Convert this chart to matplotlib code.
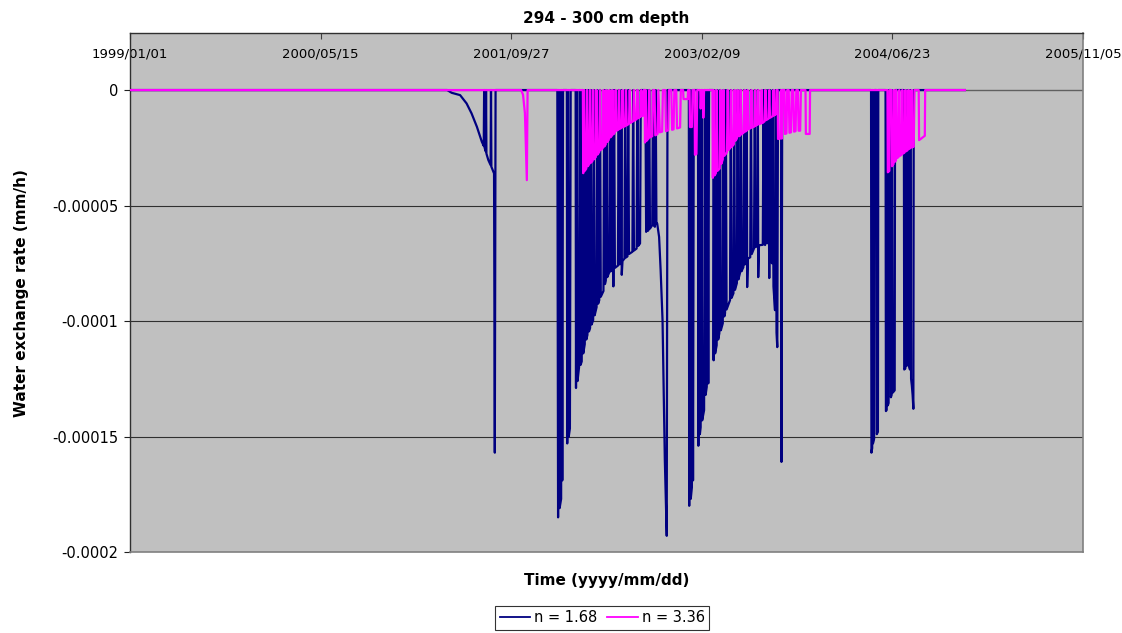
import matplotlib
matplotlib.use("Agg")
import matplotlib.pyplot as plt
import numpy as np
import pandas as pd

# series start date; the series points are (day since start, exchange rate mm/h)
start_date = "1999-01-01"

navy_pts = [
    (0, 0), (832, 0), (844, -1.2e-6), (866, -2.2e-6), (883, -5.8e-6), (896, -10.1e-6),
    (910, -15.9e-6), (923, -22.4e-6), (928, -24.2e-6), (929, 0), (930, -24.8e-6),
    (933, -26.5e-6), (934, 0), (935, -27.5e-6), (940, -30.3e-6), (946, -32.5e-6),
    (947, 0), (948, -33.2e-6), (955, -36.1e-6), (957, -157e-6), (959, 0),
    # 2002
    (1121, 0), (1123, -185e-6), (1125, 0), (1127, -181e-6), (1131, -177e-6), (1132, 0),
    (1134, -169e-6), (1136, 0), (1146, 0), (1147, -153e-6), (1149, 0), (1151, -150e-6),
    (1154, -146.5e-6), (1156, 0), (1169, 0), (1170, -129e-6), (1172, 0), (1174, -126e-6),
    (1178, -120e-6), (1180, 0), (1182, -119e-6), (1185, -117.5e-6), (1187, 0),
    (1189, -114e-6), (1193, -110e-6), (1195, 0), (1197, -108e-6), (1200, -106e-6),
    (1202, 0), (1204, -104.5e-6), (1207, -103e-6), (1209, 0), (1211, -101.5e-6),
    (1215, -99.6e-6), (1217, 0), (1219, -97.5e-6), (1224, -94e-6), (1226, 0),
    (1228, -92.5e-6), (1231, -91e-6), (1233, 0), (1235, -89.5e-6), (1242, -87e-6),
    (1244, 0), (1246, -84e-6), (1248, -82.5e-6), (1250, 0), (1252, -81e-6),
    (1257, -79e-6), (1259, 0), (1261, -78.5e-6), (1264, -78e-6), (1266, 0),
    (1268, -85e-6), (1270, 0), (1272, -77e-6), (1280, -76e-6), (1282, 0),
    (1284, -75.5e-6), (1288, -75e-6), (1289, 0), (1290, -80e-6), (1292, -74e-6),
    (1297, -73e-6), (1299, 0), (1301, -72.5e-6), (1305, -72e-6), (1307, 0),
    (1309, -71e-6), (1318, -70e-6), (1320, 0), (1322, -69.5e-6), (1329, -68.6e-6),
    (1331, 0), (1333, -67.5e-6), (1338, -66.4e-6), (1340, 0), (1352, 0),
    (1354, -61.4e-6), (1356, 0), (1358, -61e-6), (1360, -60.7e-6), (1362, 0),
    (1364, -60e-6), (1370, -58.5e-6), (1372, 0), (1374, -58.5e-6), (1377, -59.2e-6),
    (1379, 0), (1381, -58e-6), (1383, -57.8e-6), (1388, -63.6e-6), (1392, -78e-6),
    (1397, -99.6e-6), (1401, -140e-6), (1403, -160e-6), (1408, -193e-6), (1410, 0),
    # 2003
    (1466, 0), (1467, -180e-6), (1469, 0), (1471, -177e-6), (1474, -172e-6), (1475, 0),
    (1477, -169e-6), (1479, 0), (1490, 0), (1491, -154e-6), (1493, 0), (1495, -149e-6),
    (1497, -146e-6), (1499, 0), (1501, -143e-6), (1506, -138.6e-6), (1508, 0),
    (1510, -132e-6), (1513, -128.5e-6), (1515, 0), (1517, -127e-6), (1519, 0),
    (1530, 0), (1531, -117e-6), (1533, 0), (1535, -114e-6), (1539, -110.5e-6),
    (1541, 0), (1543, -108e-6), (1546, -105.3e-6), (1548, 0), (1550, -104e-6),
    (1555, -101e-6), (1557, 0), (1559, -98e-6), (1561, -96.6e-6), (1563, 0),
    (1565, -95e-6), (1574, -91e-6), (1576, 0), (1578, -90e-6), (1583, -88e-6),
    (1585, 0), (1587, -86.5e-6), (1592, -83.6e-6), (1594, 0), (1596, -82e-6),
    (1600, -79.3e-6), (1602, 0), (1604, -78.5e-6), (1609, -76.7e-6), (1611, 0),
    (1613, -75.5e-6), (1617, -74e-6), (1618, 0), (1619, -85.3e-6), (1621, -73e-6),
    (1627, -72.4e-6), (1629, 0), (1631, -71e-6), (1637, -68.5e-6), (1639, 0),
    (1641, -68e-6), (1646, -67.5e-6), (1647, 0), (1648, -81e-6), (1650, -67.2e-6),
    (1660, -67e-6), (1662, 0), (1664, -66.5e-6), (1666, -67.1e-6), (1668, 0),
    (1670, -66.3e-6), (1672, -66.3e-6), (1674, 0), (1677, -81.4e-6), (1679, 0),
    (1681, -70e-6), (1684, -75e-6), (1686, 0), (1688, -85e-6), (1692, -95.3e-6),
    (1694, 0), (1696, -105e-6), (1698, -111.3e-6), (1700, 0), (1708, 0),
    (1709, -161e-6), (1711, 0),
    # 2004
    (1944, 0), (1945, -157e-6), (1947, -155e-6), (1948, 0), (1949, -153e-6),
    (1952, -151e-6), (1953, 0), (1958, 0), (1959, -149e-6), (1962, -148e-6), (1963, 0),
    (1982, 0), (1983, -139e-6), (1985, -138.5e-6), (1986, 0), (1988, -136.5e-6),
    (1990, -135.5e-6), (1991, 0), (1995, 0), (1996, -133e-6), (1998, -132e-6),
    (1999, 0), (2001, -131e-6), (2006, -130e-6), (2007, 0),
    (2030, 0), (2031, -121e-6), (2034, -120.5e-6), (2035, 0), (2037, -119.5e-6),
    (2040, -118.5e-6), (2041, 0), (2043, -119e-6), (2046, -121e-6), (2047, 0),
    (2049, -125e-6), (2051, -128e-6), (2053, -132e-6), (2055, -138e-6), (2056, 0),
    (2190, 0),
]

magenta_pts = [
    (0, 0), (1026, 0), (1031, -2e-6), (1036, -10e-6), (1041, -39e-6), (1043, 0),
    # 2002
    (1188, 0), (1189, -36e-6), (1191, 0), (1193, -35e-6), (1197, -34e-6), (1199, 0),
    (1201, -33e-6), (1205, -32e-6), (1207, 0), (1209, -31.5e-6), (1213, -30.8e-6),
    (1215, 0), (1217, -30e-6), (1222, -29e-6), (1224, 0), (1226, -28e-6),
    (1231, -26.8e-6), (1233, 0), (1235, -26e-6), (1240, -25.2e-6), (1242, 0),
    (1244, -24.5e-6), (1248, -23.5e-6), (1250, 0), (1252, -22.5e-6), (1256, -21.5e-6),
    (1258, 0), (1260, -20.5e-6), (1264, -19.8e-6), (1266, 0), (1268, -19.2e-6),
    (1272, -18.3e-6), (1274, 0), (1276, -17.6e-6), (1281, -17.2e-6), (1283, 0),
    (1285, -16.8e-6), (1290, -16.3e-6), (1292, 0), (1294, -16e-6), (1299, -15.6e-6),
    (1301, 0), (1303, -15.3e-6), (1309, -14.6e-6), (1311, 0), (1313, -14.2e-6),
    (1320, -13.5e-6), (1322, 0), (1324, -13.2e-6), (1329, -12.6e-6), (1331, 0),
    (1333, -12.2e-6), (1339, -11.6e-6), (1341, 0), (1343, -11.3e-6), (1346, -11e-6),
    (1348, 0), (1350, 0), (1351, -22.7e-6), (1353, 0), (1355, -22e-6), (1360, -21e-6),
    (1362, 0), (1364, -20.5e-6), (1370, -20e-6), (1372, 0), (1376, 0),
    (1378, -19.6e-6), (1384, -19e-6), (1386, 0), (1390, -18.3e-6), (1396, -18e-6),
    (1398, 0), (1404, 0), (1406, -17.8e-6), (1412, -17.4e-6), (1414, 0), (1420, 0),
    (1422, -17.2e-6), (1426, -17e-6), (1428, 0), (1433, 0), (1435, -16.6e-6),
    (1443, -16.2e-6), (1445, 0), (1451, 0), (1452, -3.9e-6), (1463, -3.9e-6),
    (1464, 0), (1468, 0), (1469, -16e-6), (1474, -16e-6), (1476, 0), (1481, 0),
    (1482, -28e-6), (1486, -27.7e-6), (1488, 0), (1496, 0), (1497, -8e-6), (1499, 0),
    (1503, 0), (1504, -12e-6), (1506, 0),
    # 2003
    (1528, 0), (1529, -38e-6), (1531, 0), (1533, -37e-6), (1537, -36e-6), (1539, 0),
    (1541, -35e-6), (1547, -34e-6), (1549, 0), (1551, -32e-6), (1555, -30e-6),
    (1557, 0), (1559, -28.5e-6), (1566, -27e-6), (1568, 0), (1570, -26e-6),
    (1575, -25e-6), (1577, 0), (1579, -24.5e-6), (1584, -23.5e-6), (1586, 0),
    (1588, -22e-6), (1592, -21e-6), (1594, 0), (1596, -20e-6), (1600, -19.8e-6),
    (1602, 0), (1604, -19.2e-6), (1610, -18.4e-6), (1612, 0), (1614, -18e-6),
    (1618, -17.5e-6), (1620, 0), (1622, -17e-6), (1628, -16.5e-6), (1630, 0),
    (1632, -16.2e-6), (1638, -15.8e-6), (1640, 0), (1642, -15.4e-6), (1646, -15e-6),
    (1648, 0), (1650, -14.8e-6), (1655, -14.5e-6), (1657, 0), (1659, -14.3e-6),
    (1665, -13.5e-6), (1667, 0), (1669, -13e-6), (1675, -12.4e-6), (1677, 0),
    (1679, -12e-6), (1686, -11.3e-6), (1688, 0), (1690, -11e-6), (1694, -10.5e-6),
    (1696, 0), (1699, 0), (1700, -21.2e-6), (1706, -21e-6), (1708, 0), (1710, -21e-6),
    (1712, 0), (1717, 0), (1718, -19e-6), (1722, -18.8e-6), (1724, 0), (1728, 0),
    (1730, -18.5e-6), (1734, -18.3e-6), (1736, 0), (1740, 0), (1742, -18e-6),
    (1746, -17.8e-6), (1748, 0), (1752, 0), (1754, -17.6e-6), (1758, -17.6e-6),
    (1760, 0), (1772, 0), (1773, -19e-6), (1783, -19e-6), (1784, 0),
    # 2004
    (1987, 0), (1988, -35.6e-6), (1992, -35e-6), (1993, 0), (1998, 0), (1999, -33e-6),
    (2003, -32e-6), (2005, 0), (2007, -31e-6), (2009, -30.5e-6), (2010, 0),
    (2012, -29.5e-6), (2016, -29e-6), (2018, 0), (2020, -28.5e-6), (2024, -28e-6),
    (2026, 0), (2028, -27.5e-6), (2032, -27e-6), (2034, 0), (2036, -26.5e-6),
    (2040, -26e-6), (2042, 0), (2044, -25.5e-6), (2048, -25e-6), (2050, 0),
    (2052, -24.8e-6), (2056, -24.5e-6), (2058, 0), (2069, 0), (2070, -21.7e-6),
    (2085, -19.8e-6), (2086, 0), (2190, 0),
]

series_labels = ["n = 1.68", "n = 3.36"]
series_colors = ["#000080", "#ff00ff"]

x_tick_labels = ["1999/01/01", "2000/05/15", "2001/09/27", "2003/02/09", "2004/06/23", "2005/11/05"]
y_ticks = [0, -0.00005, -0.0001, -0.00015, -0.0002]
y_tick_labels = ["0", "-0.00005", "-0.0001", "-0.00015", "-0.0002"]


def to_dates(pts):
    days = np.array([p[0] for p in pts], dtype=float)
    vals = np.array([p[1] for p in pts], dtype=float)
    dates = pd.Timestamp(start_date) + pd.to_timedelta(days, unit="D")
    return dates, vals


W, H = 1122, 633
fig = plt.figure(figsize=(W / 100, H / 100), dpi=100)
ax = fig.add_axes([130 / W, (H - 552) / H, 953 / W, (552 - 33) / H])
ax.set_facecolor("#c0c0c0")

x_ticks = pd.to_datetime(x_tick_labels, format="%Y/%m/%d")
ax.set_xlim(x_ticks[0], x_ticks[-1])
ax.set_ylim(-0.0002, 0.0000247)

for yv in y_ticks[1:-1]:
    ax.axhline(yv, color="#303030", lw=0.8, zorder=1)
ax.axhline(0, color="#606060", lw=1.0, zorder=1)

for pts, col, lab in zip([navy_pts, magenta_pts], series_colors, series_labels):
    d, v = to_dates(pts)
    ax.plot(d, v, color=col, lw=1.6, label=lab, zorder=3)

ax.xaxis.tick_top()
ax.set_xticks(x_ticks)
ax.set_xticklabels(x_tick_labels, fontsize=9.5)
ax.tick_params(axis="x", direction="in", length=4, width=0.8, color="#404040", pad=-20)

ax.set_yticks(y_ticks)
ax.set_yticklabels(y_tick_labels, fontsize=10.5)
ax.tick_params(axis="y", direction="out", length=4.5, width=0.8, color="#202020", pad=4)

for s in ["left", "top"]:
    ax.spines[s].set_color("#303030")
    ax.spines[s].set_linewidth(1.0)
for s in ["right", "bottom"]:
    ax.spines[s].set_color("#808080")
    ax.spines[s].set_linewidth(1.2)

fig.text(606.5 / W, 1 - 18 / H, "294 - 300 cm depth", ha="center", va="center",
         fontsize=11, fontweight="bold")
fig.text(606.5 / W, 1 - 580 / H, "Time (yyyy/mm/dd)", ha="center", va="center",
         fontsize=11, fontweight="bold")
fig.text(22 / W, 1 - 293 / H, "Water exchange rate (mm/h)", ha="center", va="center",
         rotation=90, fontsize=11, fontweight="bold")

leg = fig.legend(loc="center", bbox_to_anchor=(602 / W, 1 - 618 / H), ncol=2,
                 fontsize=10.5, frameon=True, fancybox=False, handlelength=2.1,
                 handletextpad=0.25, columnspacing=0.7, borderpad=0.3, borderaxespad=0)
leg.get_frame().set_edgecolor("black")
leg.get_frame().set_linewidth(0.8)
for line in leg.get_lines():
    line.set_linewidth(1.3)

fig.savefig("out.png", dpi=100)
